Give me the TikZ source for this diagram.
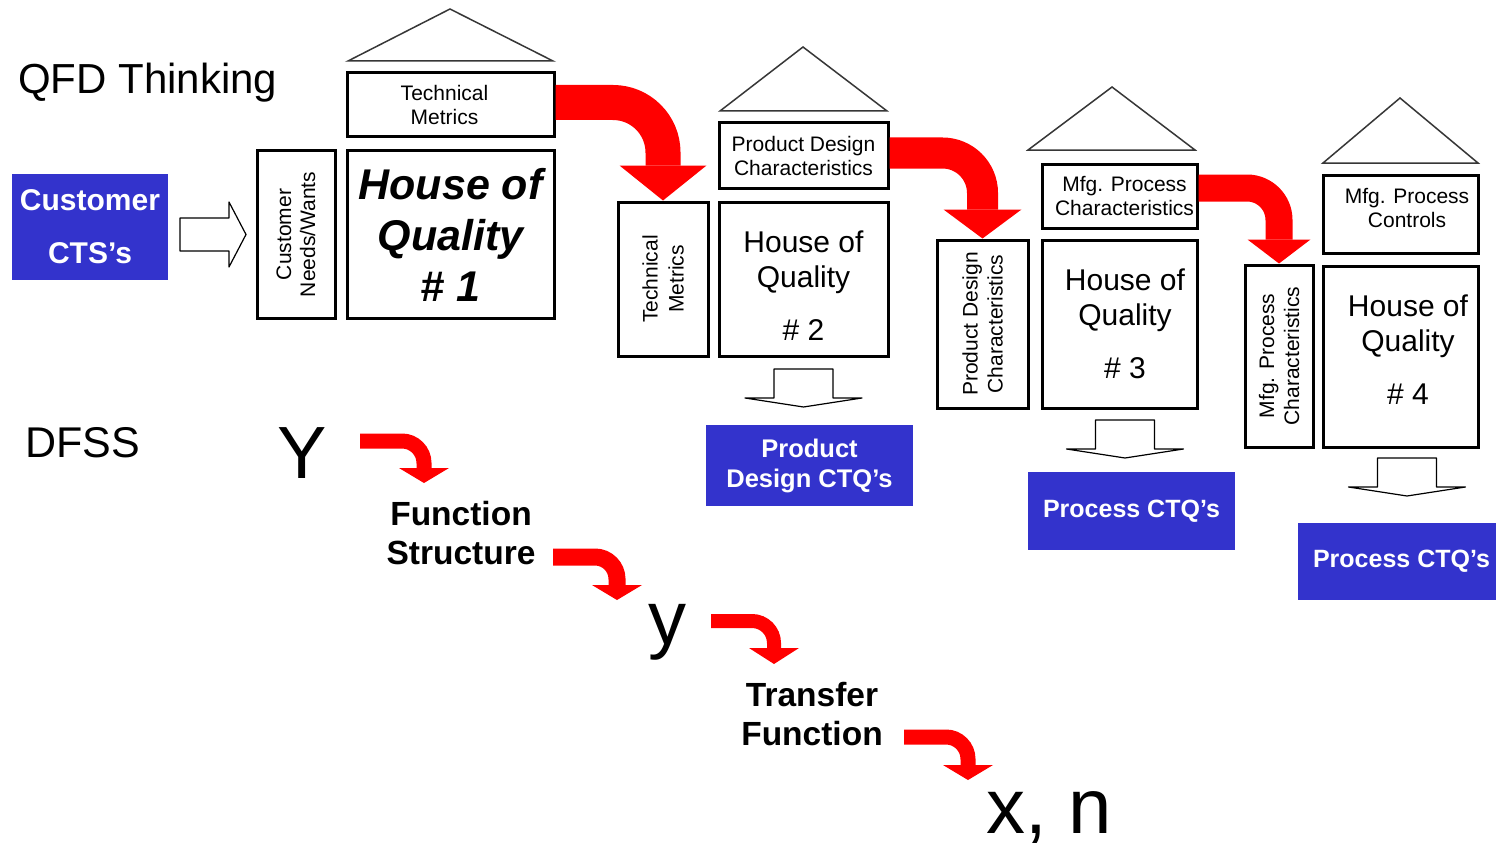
\documentclass[tikz,border=0pt]{standalone}
\usepackage{fontspec}
\setmainfont{Liberation Sans}
\usetikzlibrary{calc}
\definecolor{ctqblue}{RGB}{51,51,204}
\definecolor{roofgray}{RGB}{55,55,55}
% #1 start, #2 tip, #3 shaft width, #4 corner radius, #5 head length, #6 head width
\newcommand\redbend[6]{%
  \draw[red,line width=#3pt,rounded corners=#4pt] (#1) -| ($(#2)+(0,-#5)$);
  \fill[red] (#2) -- ++(-#6/2,-#5) -- ++(#6,0) -- cycle;}
\newcommand\pushr[1]{\hspace*{#1pt}}
\begin{document}
\begin{tikzpicture}[x=1pt,y=-1pt,
  box/.style={draw=black,line width=3pt,rectangle,inner sep=0pt,align=center},
  bluebox/.style={rectangle,fill=ctqblue,text=white,inner sep=0pt,align=center},
  txt/.style={inner sep=0pt,align=center},
  roof/.style={draw=roofgray,line width=1.5pt},
  hollow/.style={draw=black,line width=1.2pt,fill=white,line join=round},
  rightarr/.pic={\draw[hollow] (0,-16.5) -- (49,-16.5) -- (49,-32.5) -- (66,0) -- (49,32.5) -- (49,16.5) -- (0,16.5) -- cycle;},
  downarr/.pic={\draw[hollow] (-29.5,0) -- (29.5,0) -- (29.5,29) -- (58.5,29) -- (0,38) -- (-58.5,29) -- (-29.5,29) -- cycle;},
  small/.style={font=\fontsize{21}{24}\selectfont},
  sidetxt/.style={font=\fontsize{21}{25}\selectfont},
  hoqtxt/.style={font=\fontsize{30}{35.5}\selectfont},
  dfsstxt/.style={txt,font=\bfseries\fontsize{33.5}{39}\selectfont},
  bigsym/.style={inner sep=0pt,font=\fontsize{76}{80}\selectfont}
]
\fill[white] (0,0) rectangle (1496,848);
\useasboundingbox (0,0) rectangle (1496,848);

% titles
\node[inner sep=0pt,anchor=base west,font=\fontsize{42}{50}\selectfont] (qfd) at (18,94) {QFD Thinking};
\node[inner sep=0pt,anchor=base west,font=\fontsize{43}{50}\selectfont] (dfss) at (25,457) {DFSS};

% customer
\node[bluebox,minimum width=156pt,minimum height=106pt,font=\bfseries\fontsize{30}{53}\selectfont] (cust) at (90,227) {Customer\\CTS’s};
\pic at (180,234.5) {rightarr};

% House of Quality 1
\draw[roof] (348,61) -- (450,9) -- (553,61) -- cycle;
\node[box,small,minimum width=207pt,minimum height=64pt] (tm1) at (450.5,105) {Technical\pushr{12}\\Metrics\pushr{12}};
\node[box,rotate=90,font=\fontsize{21}{24}\selectfont,minimum width=168pt,minimum height=78pt] (needs) at (296,234.5) {Customer\\Needs/Wants};
\node[box,minimum width=207pt,minimum height=168pt,font=\bfseries\itshape\fontsize{43}{51}\selectfont] (hoq1) at (450.5,234.5) {House of\\Quality\\\# 1};

% House of Quality 2
\draw[roof] (720,111) -- (803,47) -- (887,111) -- cycle;
\node[box,small,minimum width=169pt,minimum height=65pt] (pdc2) at (803.5,155.5) {Product Design\\Characteristics};
\node[box,rotate=90,font=\fontsize{21}{26}\selectfont,minimum width=154pt,minimum height=90pt] (side2) at (663,279) {Technical\\Metrics};
\node[box,hoqtxt,minimum width=169pt,minimum height=154pt] (hoq2) at (803.5,279) {\rule{0pt}{34pt}House of\\Quality\\[17pt]\# 2};
\pic at (803.5,369) {downarr};
\node[bluebox,minimum width=207pt,minimum height=81pt,font=\bfseries\fontsize{25.5}{30}\selectfont] (pdctq) at (809.5,465.5) {Product\\Design CTQ’s};

% House of Quality 3
\draw[roof] (1028,150) -- (1112,87) -- (1195,150) -- cycle;
\node[box,small,minimum width=155pt,minimum height=64pt] (mpc3) at (1119.5,196) {\pushr{10}Mfg. Process\\\pushr{10}Characteristics};
\node[box,rotate=90,sidetxt,minimum width=168pt,minimum height=91pt] (side3) at (982.5,324) {Product Design\\Characteristics};
\node[box,hoqtxt,minimum width=155pt,minimum height=168pt] (hoq3) at (1119.5,324) {\pushr{11}\rule{0pt}{34pt}House of\\\pushr{11}Quality\\[17pt]\pushr{11}\# 3\rule[-14pt]{0pt}{0pt}};
\pic at (1125,420) {downarr};
\node[bluebox,minimum width=207pt,minimum height=78pt,font=\bfseries\fontsize{25}{30}\selectfont] (pctq3) at (1131.5,511) {Process CTQ’s};

% House of Quality 4
\draw[roof] (1323,163) -- (1400,98) -- (1478,163) -- cycle;
\node[box,small,minimum width=155pt,minimum height=78pt] (mpctrl4) at (1400.5,214) {\pushr{13}Mfg. Process\\\pushr{13}Controls\rule[-12pt]{0pt}{0pt}};
\node[box,rotate=90,sidetxt,minimum width=182pt,minimum height=68pt] (side4) at (1279,356) {Mfg. Process\\Characteristics};
\node[box,hoqtxt,minimum width=155pt,minimum height=181pt] (hoq4) at (1400.5,356.5) {\pushr{15}\rule{0pt}{34pt}House of\\\pushr{15}Quality\\[17pt]\pushr{15}\# 4\rule[-27pt]{0pt}{0pt}};
\pic at (1407,458) {downarr};
\node[bluebox,minimum width=207pt,minimum height=77pt,font=\bfseries\fontsize{25}{30}\selectfont] (pctq4) at (1401.5,561.5) {Process CTQ’s};

% red bend arrows between houses
\redbend{[yshift=2.5pt]tm1.east}{side2.east}{35}{50}{35}{87}
\redbend{[yshift=2.5pt]pdc2.east}{side3.east}{31}{40}{29}{78}
\redbend{[yshift=8pt]mpc3.east}{side4.east}{27}{32}{24}{63}

% DFSS chain
\node[inner sep=0pt,anchor=base,font=\fontsize{74}{80}\selectfont] (Ybig) at (302,478) {Y};
\node[dfsstxt] (fs) at (461,533.5) {Function\\Structure};
\node[bigsym,anchor=base] (ysmall) at (667,644) {y};
\node[dfsstxt] (tf) at (812,714.5) {Transfer\\Function};
\node[bigsym,anchor=base west,font=\fontsize{78}{80}\selectfont] (xn) at (986,833) {x, n};

\coordinate (a1) at (360,441);   \coordinate (a2) at (424,483);
\coordinate (b1) at (553,557);   \coordinate (b2) at (617,600);
\coordinate (c1) at (711,621);   \coordinate (c2) at (774,664);
\coordinate (d1) at (904,737);   \coordinate (d2) at (968,780);
\redbend{a1}{a2}{15}{22}{15}{50}
\redbend{b1}{b2}{17}{22}{15}{50}
\redbend{c1}{c2}{14}{22}{16}{50}
\redbend{d1}{d2}{15}{22}{15}{50}
\end{tikzpicture}
\end{document}
